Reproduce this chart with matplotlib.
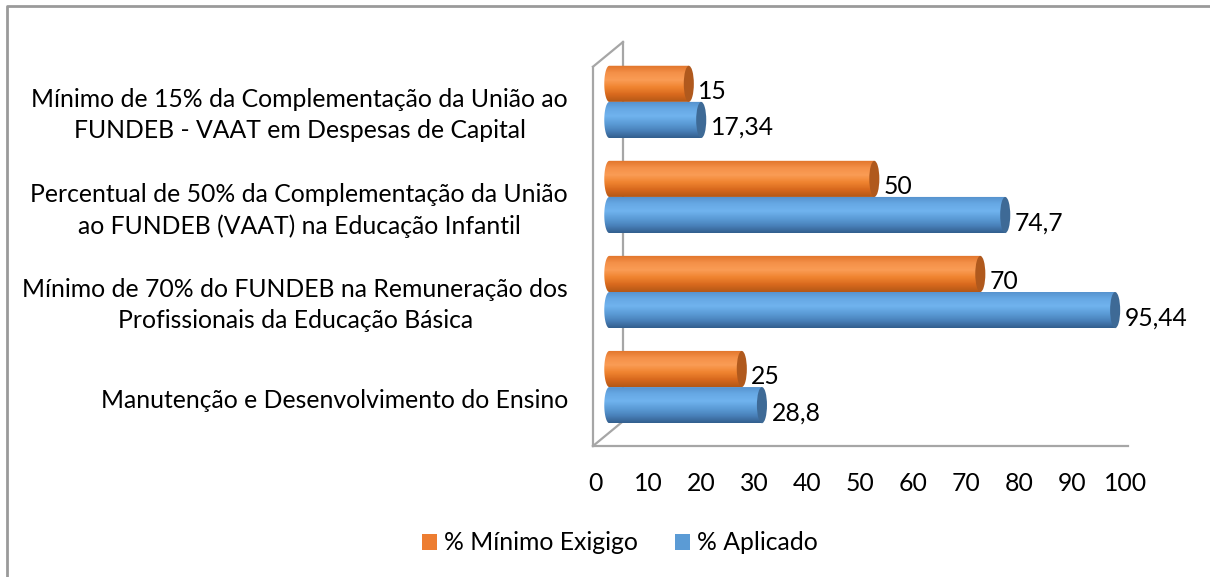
import numpy as np
import matplotlib
matplotlib.use("Agg")
import matplotlib.pyplot as plt
from matplotlib.colors import LinearSegmentedColormap
from matplotlib.patches import PathPatch, Ellipse, Patch
from matplotlib.path import Path
from matplotlib.lines import Line2D

plt.rcParams['font.family'] = ['Lato', 'DejaVu Sans']

# data (bottom to top)
categories = [
    "Manutenção e Desenvolvimento do Ensino",
    "Mínimo de 70% do FUNDEB na Remuneração dos\nProfissionais da Educação Básica",
    "Percentual de 50% da Complementação da União\nao FUNDEB (VAAT) na Educação Infantil",
    "Mínimo de 15% da Complementação da União ao\nFUNDEB - VAAT em Despesas de Capital",
]
minimo = [25, 70, 50, 15]
aplicado = [28.8, 95.44, 74.7, 17.34]
series_names = ["% Mínimo Exigigo", "% Aplicado"]
ticks = list(range(0, 101, 10))

W, H = 1210, 577
fig = plt.figure(figsize=(W / 100, H / 100), dpi=100)
fig.patch.set_facecolor('white')

ax = fig.add_axes([595 / W, (H - 446) / H, 530 / W, (446 - 42) / H])
ax.set_facecolor('none')

# colour ramps for the cylinders (bottom -> top)
orange_cm = LinearSegmentedColormap.from_list(
    'o', ['#B45816', '#D8691E', '#F08430', '#FA9C55', '#F49048', '#E0742A'])
blue_cm = LinearSegmentedColormap.from_list(
    'b', ['#335F8E', '#4A82BB', '#5C9DD8', '#70B3EE', '#66A8E4', '#5591CC'])
orange_cap = '#B0591D'
blue_cap = '#3E6A96'

shift = 2.7      # depth offset of bar base
ew = 1.9         # cap ellipse width (data units)
bh = 0.38        # bar thickness
off = 0.19       # series offset from category centre
grad = np.linspace(0, 1, 64).reshape(-1, 1)


def cylinder(yc, val, cmap, capc):
    x0 = shift
    x1 = shift + val
    t = np.linspace(np.pi / 2, 3 * np.pi / 2, 30)
    xs = list(x0 + ew / 2 * np.cos(t)) + [x1, x1]
    ys = list(yc + bh / 2 * np.sin(t)) + [yc - bh / 2, yc + bh / 2]
    verts = list(zip(xs, ys)) + [(xs[0], ys[0])]
    codes = [Path.MOVETO] + [Path.LINETO] * (len(verts) - 2) + [Path.CLOSEPOLY]
    clip = PathPatch(Path(verts, codes), facecolor='none', edgecolor='none',
                     transform=ax.transData)
    ax.add_patch(clip)
    im = ax.imshow(grad, cmap=cmap, aspect='auto', origin='lower',
                   extent=[x0 - ew / 2, x1, yc - bh / 2, yc + bh / 2],
                   interpolation='bilinear', zorder=3)
    im.set_clip_path(clip)
    ax.add_patch(Ellipse((x1, yc), ew, bh, facecolor=capc,
                         edgecolor='none', zorder=4))


def fmt(v):
    return f"{v:g}".replace('.', ',')


ypos = np.arange(len(categories))
lab_fs = 17.8

for i, y in enumerate(ypos):
    cylinder(y + off, minimo[i], orange_cm, orange_cap)
    cylinder(y - off, aplicado[i], blue_cm, blue_cap)
    ax.text(shift + minimo[i] + 1.8, y + off - 0.08, fmt(minimo[i]),
            va='center', ha='left', fontsize=lab_fs, zorder=5)
    ax.text(shift + aplicado[i] + 1.8, y - off - 0.08, fmt(aplicado[i]),
            va='center', ha='left', fontsize=lab_fs, zorder=5)
    ax.text(-5.1, y - 0.14, categories[i], ha='right', va='center',
            multialignment='center', fontsize=lab_fs, linespacing=1.42)

# 3D frame (walls)
ylo, yhi = -0.62, 3.63
dx, dy = 5.66, 0.26
gc = '#A6A6A6'
frame = dict(color=gc, lw=1.6, clip_on=False, zorder=1)
ax.plot([-0.38, 100.6], [ylo, ylo], **frame)
ax.plot([-0.38, -0.38], [ylo, yhi - dy], **frame)
ax.plot([-0.38 + dx, -0.38 + dx], [ylo + dy, yhi], **frame)
ax.plot([-0.38, -0.38 + dx], [ylo, ylo + dy], **frame)
ax.plot([-0.38, -0.38 + dx], [yhi - dy, yhi], **frame)

ax.set_xlim(0, 100)
ax.set_ylim(ylo, yhi)
ax.set_xticks(ticks)
ax.set_xticklabels([str(t) for t in ticks], fontsize=lab_fs)
ax.set_yticks([])
ax.tick_params(axis='x', length=0, pad=19)
for s in ax.spines.values():
    s.set_visible(False)

handles = [Patch(facecolor='#ED7D31', label=series_names[0]),
           Patch(facecolor='#5B9BD5', label=series_names[1])]
fig.legend(handles=handles, loc='center', bbox_to_anchor=(620 / W, (H - 543) / H),
           ncol=2, frameon=False, fontsize=lab_fs, handlelength=0.6,
           handleheight=0.6, handletextpad=0.3, columnspacing=1.5)

# outer border (top and left visible)
fig.add_artist(Line2D([7 / W, 7 / W, 1], [0, 1 - 6 / H, 1 - 6 / H],
                      transform=fig.transFigure, color='#9A9A9A', lw=2))

fig.savefig('out.png', dpi=100)
